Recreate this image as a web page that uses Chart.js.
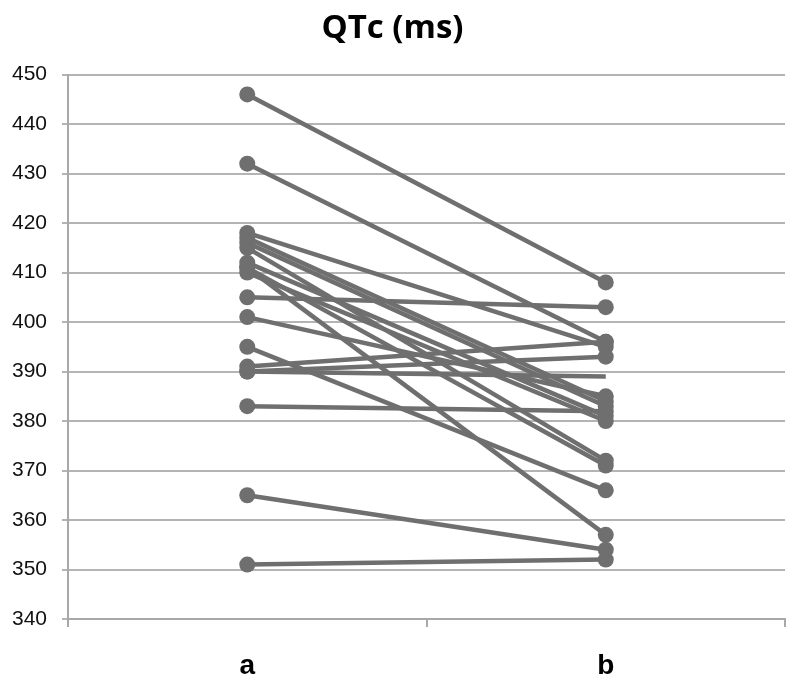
<!DOCTYPE html>
<html>
<head>
<meta charset="utf-8">
<script src="https://cdn.jsdelivr.net/npm/chart.js@4/dist/chart.umd.min.js"></script>
<style>
  html, body { margin: 0; padding: 0; background: #fff; }
  #wrap { width: 800px; height: 688px; }
</style>
</head>
<body>
<div id="wrap"><canvas id="qtc"></canvas></div>
<script>
// QTc values, each subject measured at a and b
var categories = ['a', 'b'];
var valuesA = [446, 432, 418, 417, 416, 415, 412, 411, 411, 410, 405, 401, 395, 391, 390, 390, 383, 365, 351];
var valuesB = [408, 396, 395, 384, 383, 372, 381, 371, 357, 380, 403, 385, 366, 396, 393, 389, 382, 354, 352];
var yTicks = [340, 350, 360, 370, 380, 390, 400, 410, 420, 430, 440, 450];

var lineGrey = '#6f6f6f';
var datasets = [];
for (var i = 0; i < valuesA.length; i++) {
    datasets.push({
        label: 'subject ' + (i + 1),
        data: [valuesA[i], valuesB[i]],
        borderColor: lineGrey,
        backgroundColor: lineGrey,
        borderWidth: 4.5,
        // one line in the original has no marker at b
        pointRadius: valuesB[i] === 389 ? [8, 0] : 8,
        pointBorderWidth: 0,
        pointHoverRadius: 8
    });
}

var ctx = document.getElementById('qtc').getContext('2d');
var chart = new Chart(ctx, {
    type: 'line',
    data: { labels: categories, datasets: datasets },
    options: {
        responsive: true,
        maintainAspectRatio: false,
        animation: false,
        layout: { padding: { left: 0, right: 15, top: 0, bottom: 0 } },
        plugins: {
            legend: { display: false },
            tooltip: { enabled: false },
            title: {
                display: true,
                text: 'QTc (ms)',
                color: '#000',
                font: { family: 'Open Sans', size: 33, weight: 'bold' },
                padding: { top: 9, bottom: 26 }
            }
        },
        scales: {
            x: {
                offset: true,
                afterFit: function (axis) { axis.height = 69; },
                grid: {
                    offset: true,
                    drawOnChartArea: false,
                    drawTicks: true,
                    tickLength: 8,
                    color: '#a8a8a8',
                    lineWidth: 2
                },
                border: { color: '#a8a8a8', width: 2 },
                ticks: {
                    color: '#000',
                    padding: 22,
                    font: { family: 'Liberation Sans', size: 28, weight: 'bold' }
                }
            },
            y: {
                min: 340,
                max: 450,
                afterBuildTicks: function (axis) {
                    axis.ticks = yTicks.map(function (v) { return { value: v }; });
                },
                afterFit: function (axis) { axis.width = 68; },
                grid: {
                    color: '#b4b4b4',
                    lineWidth: 2,
                    tickLength: 6
                },
                border: { color: '#a8a8a8', width: 2 },
                ticks: {
                    color: '#111',
                    padding: 15,
                    font: { family: 'Liberation Sans', size: 21 }
                }
            }
        }
    }
});
</script>
</body>
</html>
